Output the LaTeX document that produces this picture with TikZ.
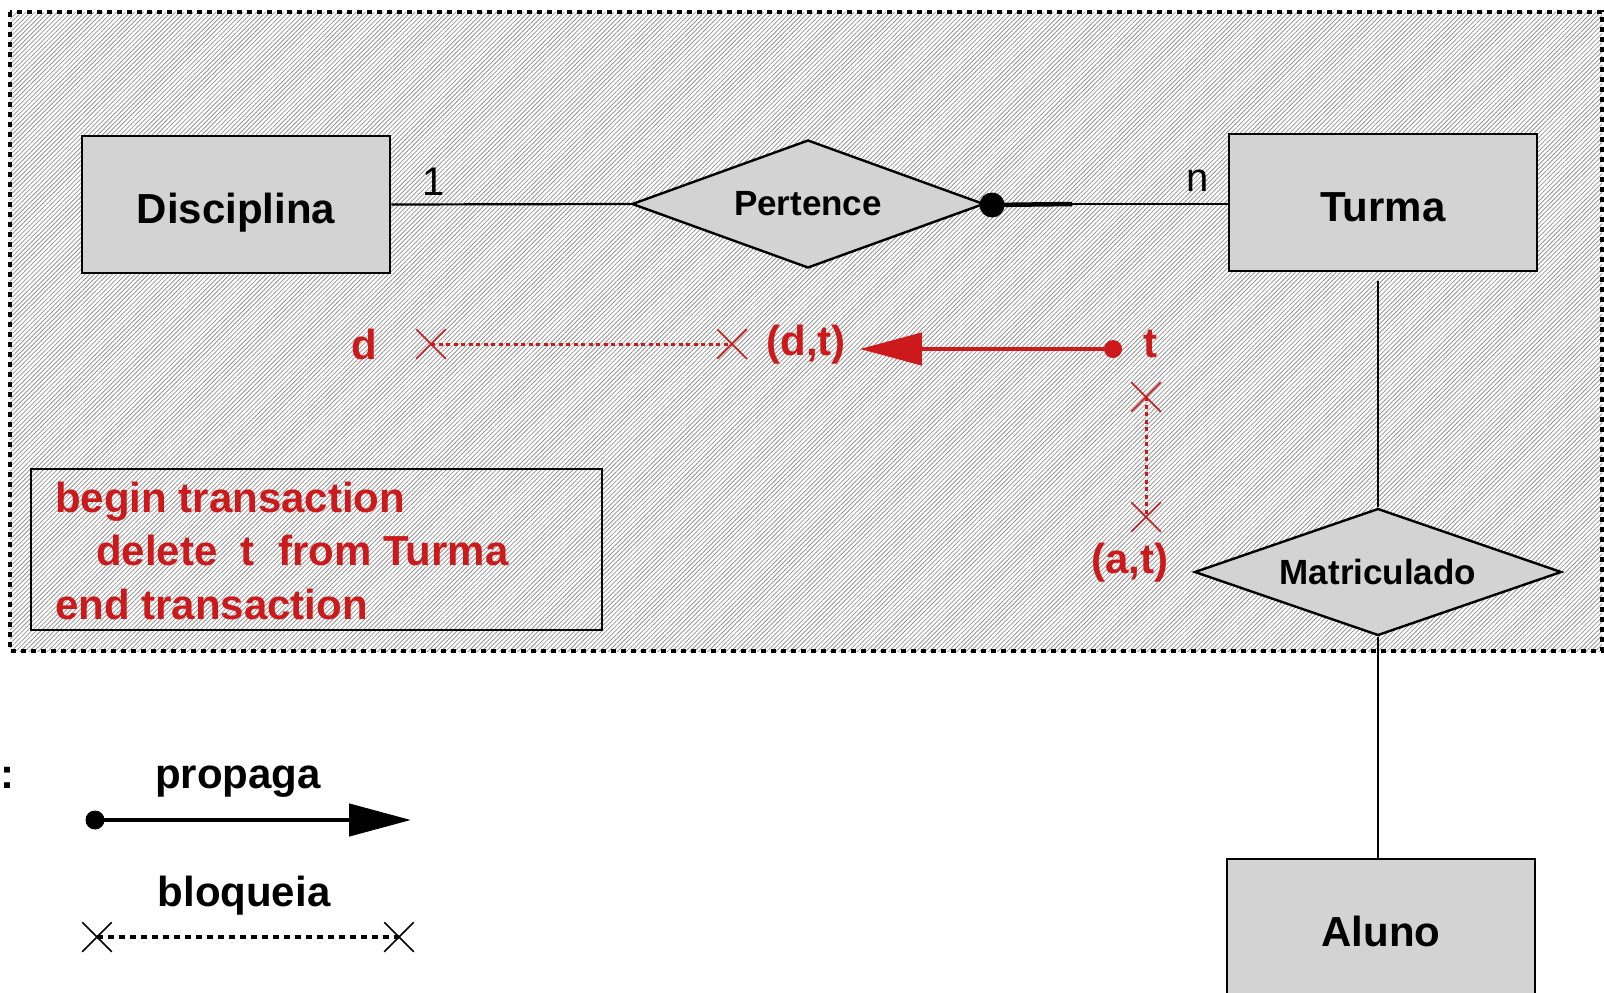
\documentclass[tikz,border=0pt]{standalone}
\usepackage{fontspec}
\setmainfont{Liberation Sans}
\usepackage{xcolor}
\usepackage{tikz}
\usetikzlibrary{shapes.geometric,shapes.misc,arrows.meta,patterns.meta}
\definecolor{ERGray}{RGB}{211,211,211}
\definecolor{ERRed}{RGB}{204,26,28}

\begin{document}
\begin{tikzpicture}[x=1pt, y=-1pt,
        entity/.style={draw, line width=2.6pt, fill=ERGray, minimum width=308pt, minimum height=137pt, text height=37pt, text depth=0pt, font=\fontsize{42}{50}\selectfont\bfseries},
        relship/.style={diamond, draw, line width=2.4pt, fill=ERGray, inner sep=0pt, aspect=2.75, font=\fontsize{35}{42}\selectfont\bfseries},
        link/.style={line width=2.2pt},
        card/.style={font=\fontsize{40}{48}\selectfont, inner sep=0pt},
        rtext/.style={text=ERRed, font=\fontsize{42}{50}\selectfont\bfseries, inner sep=0pt},
        ltext/.style={font=\fontsize{42}{50}\selectfont\bfseries, inner sep=0pt},
        xmark/.style={cross out, draw, line width=1.5pt, minimum size=28pt, inner sep=0pt},
        blocked/.style={line width=3.6pt, dash pattern=on 6pt off 5pt},
        dotmark/.style={circle, fill, inner sep=0pt, minimum size=#1},
        propagate/.style={line width=4.5pt, -{Triangle[length=62pt, width=32pt]}}
    ]
        \useasboundingbox (0,0) rectangle (1604,993);

        % Hatched area
        \fill[pattern={Lines[angle=45, distance=3.2pt, line width=0.8pt]}, pattern color=black!42] (10,12) rectangle (1602,651);
        \draw[line width=4.5pt, dash pattern=on 5pt off 5pt] (10,12) rectangle (1602,651);

        % Entities and relationships
        \node[entity] (disc) at (236,204.5) {Disciplina};
        \node[relship, minimum width=352pt, minimum height=128pt] (pert) at (808,204) {Pertence};
        \node[entity] (turma) at (1383,202.5) {Turma};
        \node[relship, minimum width=367pt, minimum height=127pt] (matr) at (1378,572) {Matriculado};
        \node[entity] (aluno) at (1381,927.5) {Aluno};

        % Connectors
        \draw[link] (disc.east) -- (pert.west);
        \node[card] (one) at (434,182) {1};
        \node[dotmark=25pt] (pdot) at (992,205) {};
        \coordinate (pend) at (1072,204);
        \draw[line width=4.5pt] (pdot.center) -- (pend);
        \draw[link] (pend) -- (pend -| turma.west);
        \node[card] (many) at (1198,181) {n};
        \coordinate (tbelow) at (1378,281);
        \draw[link] (tbelow) -- (matr.north);
        \draw[link] (matr.south) -- (matr.south |- aluno.north);

        % Delete of t
        \node[rtext] (d) at (364,344) {d};
        \node[xmark, ERRed] (dx1) at (431,344) {};
        \node[xmark, ERRed] (dx2) at (732,344) {};
        \draw[blocked, ERRed, line width=3pt, dash pattern=on 4pt off 3.5pt] (dx1.center) -- (dx2.center);
        \node[rtext] (dtpair) at (806,345) {(d,t)};
        \node[dotmark=18pt, ERRed] (tdot) at (1113,349) {};
        \node[rtext] (t) at (1150,344) {t};
        \draw[propagate, ERRed, shorten >=14pt] (tdot.center) -- (tdot.center -| dtpair.east);
        \node[xmark, ERRed] (ax1) at (1146,397) {};
        \node[xmark, ERRed] (ax2) at (1146,517) {};
        \draw[blocked, ERRed, line width=3pt, dash pattern=on 4pt off 3.5pt] (ax1.center) -- (ax2.center);
        \node[rtext] (atpair) at (1130,563) {(a,t)};

        % Transaction
        \node[draw, line width=2.4pt, minimum width=571pt, minimum height=161pt] (trans) at (316.5,549.5) {};
        \node[rtext, anchor=base west] (begintx) at (55,512) {begin transaction};
        \node[rtext, anchor=base west] (deletetx) at (96,565) {delete\ \ t\ \ from Turma};
        \node[rtext, anchor=base west] (endtx) at (55,619) {end transaction};

        % Legend
        \node[ltext] (colon) at (7,778) {:};
        \node[ltext] (propaga) at (238,782) {propaga};
        \node[dotmark=19pt] (ldot) at (95,820) {};
        \coordinate (ltip) at (411,820);
        \draw[propagate] (ldot.center) -- (ltip);
        \node[ltext] (bloqueia) at (244,896) {bloqueia};
        \node[xmark] (lx1) at (97,937) {};
        \node[xmark] (lx2) at (399,937) {};
        \draw[blocked] (lx1.center) -- (lx2.center);
    \end{tikzpicture}
\end{document}
